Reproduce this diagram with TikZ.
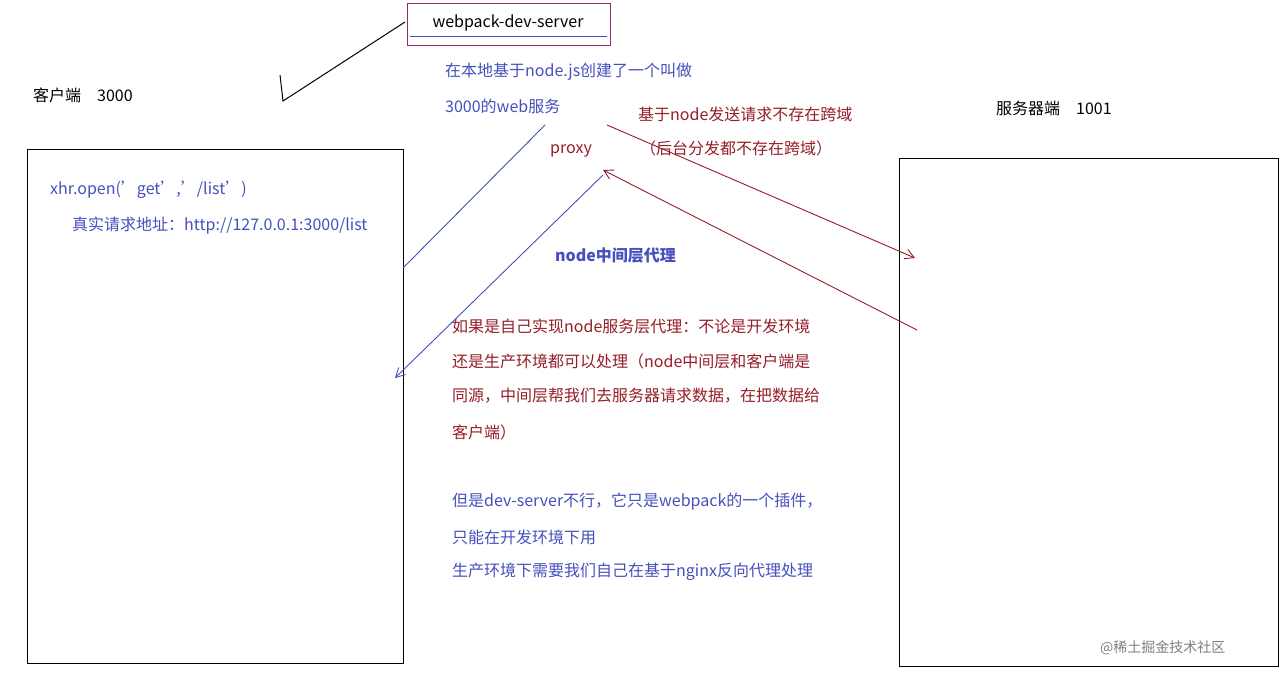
\documentclass[tikz,border=0pt]{standalone}
\usepackage{fontspec}
\setmainfont{Noto Sans CJK SC}
\usetikzlibrary{arrows.meta}
\definecolor{bl}{RGB}{70,80,190}
\definecolor{rd}{RGB}{150,30,40}
\definecolor{pu}{RGB}{150,40,110}
\tikzset{
  t/.style={anchor=west,inner sep=0pt,font=\fontsize{16}{18}\selectfont},
  bt/.style={t,text=bl},
  rt/.style={t,text=rd},
  kt/.style={t,text=black},
  bx/.style={draw=black,line width=1.2pt},
  bline/.style={draw=bl,line width=0.9pt},
  rline/.style={draw=rd,line width=0.9pt},
  tip/.style={-{Straight Barb[length=9pt,width=10pt]}}
}
\begin{document}
\begin{tikzpicture}[x=1pt,y=-1pt]
\useasboundingbox (0,0) rectangle (1284,678);
\fill[white] (0,0) rectangle (1284,678);
\node[bx,minimum width=376pt,minimum height=514pt,anchor=north west,inner sep=0pt] (client) at (27,149) {};
\node[bx,minimum width=379pt,minimum height=508pt,anchor=north west,inner sep=0pt] (server) at (899,158) {};
\node[draw=pu,line width=1pt,minimum width=203pt,minimum height=42pt,anchor=north west,inner sep=0pt] (wds) at (407,3) {};
\node[kt,anchor=center] (wdst) at (508,23) {webpack-dev-server};
\coordinate (ul1) at (410,36); \coordinate (ul2) at (607,36);
\draw[bline] (ul1) -- (ul2);
\coordinate (s1) at (280,75); \coordinate (s2) at (283,101); \coordinate (s3) at (405,22);
\draw[black,line width=1pt] (s1) -- (s2) -- (s3);
\node[kt] (cl) at (33,95) {客户端\quad 3000};
\node[kt] (sv) at (996,108) {服务器端\quad 1001};
\node[bt] (n1) at (445,72) {在本地基于node.js创建了一个叫做};
\node[bt] (n2) at (445,106) {3000的web服务};
\node[rt] (px) at (550,151) {proxy};
\node[rt] (r1) at (638,114) {基于node发送请求不存在跨域};
\node[rt] (r2) at (640,148) {（后台分发都不存在跨域）};
\node[bt] (x1) at (50,190) {xhr.open('get','/list')};
\node[bt] (x2) at (72,226) {真实请求地址：http://127.0.0.1:3000/list};
\node[bt,font=\fontsize{16}{18}\selectfont\bfseries] (mid) at (555,256) {node中间层代理};
\node[rt] (p1) at (452,326) {如果是自己实现node服务层代理：不论是开发环境};
\node[rt] (p2) at (452,361) {还是生产环境都可以处理（node中间层和客户端是};
\node[rt] (p3) at (452,396) {同源，中间层帮我们去服务器请求数据，在把数据给};
\node[rt] (p4) at (452,432) {客户端）};
\node[bt] (q1) at (452,502) {但是dev-server不行，它只是webpack的一个插件，};
\node[bt] (q2) at (452,537) {只能在开发环境下用};
\node[bt] (q3) at (452,572) {生产环境下需要我们自己在基于nginx反向代理处理};
\node[t,text=gray,font=\fontsize{14}{16}\selectfont] (wm) at (1100,648) {@稀土掘金技术社区};
\coordinate (a1) at (403,268); \coordinate (a2) at (545,125);
\draw[bline] (a1) -- (a2);
\coordinate (b1) at (603,175); \coordinate (b2) at (395,378);
\draw[bline,tip] (b1) -- (b2);
\coordinate (c1) at (607,125); \coordinate (c2) at (915,258);
\draw[rline,tip] (c1) -- (c2);
\coordinate (d1) at (917,330); \coordinate (d2) at (603,170);
\draw[rline,tip] (d1) -- (d2);
\end{tikzpicture}
\end{document}
